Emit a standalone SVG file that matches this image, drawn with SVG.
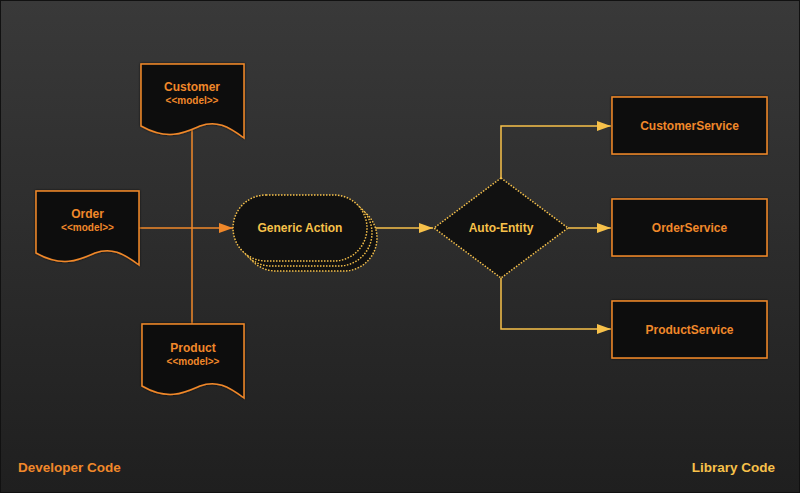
<svg xmlns="http://www.w3.org/2000/svg" width="800" height="493" viewBox="0 0 800 493">
<defs>
<linearGradient id="bg" x1="0" y1="0" x2="0" y2="1">
<stop offset="0" stop-color="#393939"/>
<stop offset="1" stop-color="#1f1f1f"/>
</linearGradient>
<filter id="sh" x="-10%" y="-10%" width="120%" height="120%">
<feDropShadow dx="0" dy="0" stdDeviation="1" flood-color="#000" flood-opacity="0.8"/>
</filter>
<marker id="ao" viewBox="0 0 14 10" refX="14" refY="5" markerWidth="14" markerHeight="10" markerUnits="userSpaceOnUse" orient="auto">
<path d="M0,0 L14,5 L0,10 Z" fill="#f0882a"/>
</marker>
<marker id="ay" viewBox="0 0 14 10" refX="14" refY="5" markerWidth="14" markerHeight="10" markerUnits="userSpaceOnUse" orient="auto">
<path d="M0,0 L14,5 L0,10 Z" fill="#f7c14a"/>
</marker>
</defs>
<style>
.doc{fill:#111;stroke:#f0882a;stroke-width:1.5;filter:url(#sh)}
.box{fill:#111;stroke:#f0882a;stroke-width:1.5;filter:url(#sh)}
.dot{fill:#111;stroke:#f7c14a;stroke-width:1.5;stroke-dasharray:1.5 1.5}
.co{fill:none;stroke:#f0882a;stroke-width:1.5}
.cy{fill:none;stroke:#f7c14a;stroke-width:1.5}
text{font-family:"Liberation Sans",Arial,sans-serif;font-weight:bold;text-anchor:middle}
.t{font-size:12px;fill:#f0882a}
.m{font-size:10px;fill:#f0882a}
.ty{font-size:12px;fill:#f7c14a}
</style>
<rect x="0.5" y="0.5" width="799" height="492" fill="url(#bg)" stroke="#111" stroke-width="1"/>
<g id="connectors">
<path class="co" d="M192,130 V324"/>
<path class="co" d="M139,228 H233" marker-end="url(#ao)"/>
<path class="cy" d="M367,228 H433" marker-end="url(#ay)"/>
<path class="cy" d="M501,178 V126 H611" marker-end="url(#ay)"/>
<path class="cy" d="M568,228 H611" marker-end="url(#ay)"/>
<path class="cy" d="M501,278 V329 H611" marker-end="url(#ay)"/>
</g>
<g id="customer">
<path class="doc" d="M141,64 H244 V138 C228,126 216,120 200,126 C184,133 168,141 141,126 Z"/>
<text class="t" x="192" y="91">Customer</text>
<text class="m" x="192" y="104">&lt;&lt;model&gt;&gt;</text>
</g>
<g id="order">
<path class="doc" d="M36,191 H139 V265 C123,253 111,247 95,253 C79,260 63,268 36,253 Z"/>
<text class="t" x="87.5" y="218">Order</text>
<text class="m" x="87.5" y="231">&lt;&lt;model&gt;&gt;</text>
</g>
<g id="product">
<path class="doc" d="M142,324 H244 V398 C228,386 216,380 200,386 C184,393 168,401 142,386 Z"/>
<text class="t" x="193" y="352">Product</text>
<text class="m" x="193" y="365">&lt;&lt;model&gt;&gt;</text>
</g>
<g id="generic-action">
<rect class="dot" x="243" y="205" width="134" height="66" rx="33"/>
<rect class="dot" x="238" y="200" width="134" height="66" rx="33"/>
<rect class="dot" x="233" y="195" width="134" height="66" rx="33"/>
<text class="ty" x="300" y="232">Generic Action</text>
</g>
<g id="auto-entity">
<path class="dot" d="M501,178 L568,228 L501,278 L434,228 Z"/>
<text class="ty" x="501" y="232">Auto-Entity</text>
</g>
<g id="customer-service">
<rect class="box" x="612" y="97" width="155" height="57"/>
<text class="t" x="689.5" y="129.5">CustomerService</text>
</g>
<g id="order-service">
<rect class="box" x="612" y="199" width="155" height="57"/>
<text class="t" x="689.5" y="231.5">OrderService</text>
</g>
<g id="product-service">
<rect class="box" x="612" y="301" width="155" height="57"/>
<text class="t" x="689.5" y="333.5">ProductService</text>
</g>
<g id="labels">
<text x="18" y="472" style="font-size:13.5px;fill:#f0882a;text-anchor:start">Developer Code</text>
<text x="775" y="472" style="font-size:13.5px;fill:#f7c14a;text-anchor:end">Library Code</text>
</g>
</svg>
